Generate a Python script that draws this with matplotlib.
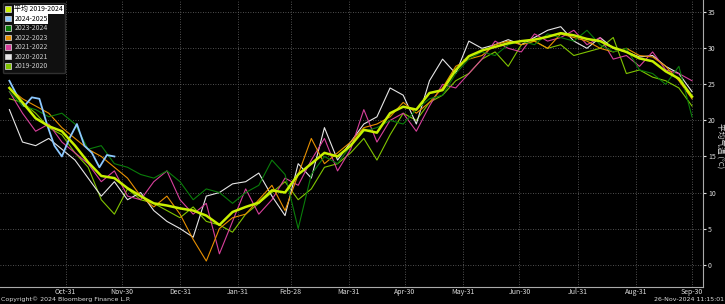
import numpy as np
import matplotlib
matplotlib.use("Agg")
import matplotlib.pyplot as plt
import matplotlib.dates as mdates
from matplotlib.patches import Patch

plt.rcParams['font.family'] = ['Noto Sans CJK SC', 'DejaVu Sans']

# weekly readings, starting 1 Oct
start = np.datetime64('2022-10-01')
week_dates = start + np.arange(0, 365, 7).astype('timedelta64[D]')

avg_2019_2024 = [24.5, 22.5, 20.3, 19.2, 18.5, 16.5, 14.2, 12.3, 12.0, 10.6, 9.5, 8.5, 8.2, 7.8, 7.5, 6.8,
                 5.5, 7.3, 8.0, 8.6, 10.3, 10.0, 12.5, 14.0, 15.5, 15.0, 16.5, 18.7, 18.3, 21.0, 21.9, 21.5,
                 23.8, 24.2, 27.0, 28.9, 29.7, 30.2, 30.7, 31.0, 31.2, 31.6, 32.1, 31.8, 31.3, 31.0, 30.1,
                 29.5, 28.6, 28.2, 26.8, 25.8, 23.3]
y2023_2024 = [24.0, 22.0, 21.5, 20.5, 21.0, 19.5, 16.0, 16.5, 14.0, 13.5, 12.5, 12.0, 13.0, 11.5, 9.0, 10.5,
              10.0, 8.5, 10.0, 11.0, 14.5, 12.5, 5.0, 12.5, 15.0, 14.0, 16.5, 18.5, 19.0, 20.0, 19.5, 21.5,
              23.0, 23.5, 26.5, 28.5, 29.5, 29.0, 30.5, 31.0, 30.5, 32.0, 31.5, 31.0, 32.5, 30.5, 29.5,
              30.0, 27.0, 26.5, 25.0, 27.5, 20.5]
y2022_2023 = [24.5, 23.0, 22.0, 21.0, 19.0, 17.5, 16.0, 15.0, 13.5, 12.0, 9.5, 8.0, 9.5, 7.0, 3.5, 0.5,
              5.0, 6.5, 7.0, 9.0, 11.0, 7.5, 12.5, 17.5, 14.0, 15.5, 17.0, 19.0, 19.5, 20.5, 22.5, 21.0,
              22.5, 24.5, 27.5, 28.5, 29.0, 30.5, 31.0, 30.5, 31.0, 30.0, 32.0, 31.5, 31.0, 30.0, 29.5,
              30.0, 29.0, 28.8, 27.5, 25.5, 23.0]
y2021_2022 = [24.0, 21.0, 18.5, 19.5, 17.0, 15.5, 14.0, 11.5, 13.0, 9.5, 9.0, 11.5, 13.0, 9.0, 7.0, 8.5,
              1.5, 6.0, 10.5, 7.0, 9.0, 12.0, 11.0, 14.5, 17.5, 13.0, 16.0, 21.5, 17.0, 20.0, 21.0, 18.5,
              22.0, 25.0, 24.5, 26.5, 28.5, 31.0, 30.0, 29.5, 32.0, 31.0, 31.5, 32.5, 30.5, 31.5, 28.5,
              29.0, 27.5, 29.5, 27.0, 26.5, 25.5]
y2020_2021 = [21.5, 17.0, 16.5, 17.5, 16.0, 14.5, 12.0, 9.5, 11.5, 9.0, 10.0, 7.5, 6.0, 5.0, 3.8, 9.5,
              10.0, 11.2, 11.5, 12.7, 9.5, 6.8, 14.0, 12.0, 19.0, 14.5, 17.0, 19.5, 20.5, 24.5, 23.5, 19.5,
              25.5, 28.5, 26.5, 31.0, 30.0, 30.5, 31.2, 30.5, 31.5, 32.5, 33.0, 31.0, 30.0, 31.5, 30.0,
              29.5, 28.8, 29.0, 27.5, 26.5, 24.0]
y2019_2020 = [23.0, 22.5, 21.0, 19.0, 18.0, 15.5, 13.5, 9.0, 7.0, 10.5, 9.0, 8.5, 7.5, 6.5, 8.0, 6.0,
              5.5, 4.5, 7.0, 8.5, 10.0, 11.5, 9.0, 10.5, 13.5, 14.0, 15.5, 17.5, 14.5, 18.0, 21.0, 20.0,
              22.5, 23.5, 25.5, 26.5, 28.5, 29.5, 27.5, 30.5, 31.0, 30.0, 30.5, 29.0, 29.5, 30.0, 31.5,
              26.5, 27.0, 26.0, 25.5, 24.5, 22.0]

# current season, every 4 days up to late Nov
cur_dates = start + np.arange(0, 57, 4).astype('timedelta64[D]')
y2024_2025 = [25.5, 23.5, 22.0, 23.2, 23.0, 19.5, 16.5, 15.0, 17.5, 19.5, 16.5, 15.5, 13.5, 15.2, 15.0]

labels = ['平均 2019-2024', '2024-2025', '2023-2024', '2022-2023', '2021-2022', '2020-2021', '2019-2020']
colors = ['#c8f000', '#8cc8ff', '#0a7d0a', '#e89000', '#d8409c', '#e6e6e6', '#80c400']

month_ends = ['2022-10-31', '2022-11-30', '2022-12-31', '2023-01-31', '2023-02-28', '2023-03-31',
              '2023-04-30', '2023-05-31', '2023-06-30', '2023-07-31', '2023-08-31', '2023-09-30']

fig = plt.figure(figsize=(7.25, 3.04), dpi=100, facecolor='black')
ax = fig.add_axes([0.0, 0.056, 0.970, 0.944], facecolor='black')

# years first, average on top
series = [y2019_2020, y2020_2021, y2021_2022, y2022_2023, y2023_2024]
series_colors = [colors[6], colors[5], colors[4], colors[3], colors[2]]
for vals, c in zip(series, series_colors):
    ax.plot(week_dates, vals, color=c, lw=0.8)
ax.plot(cur_dates, y2024_2025, color=colors[1], lw=1.3)
ax.plot(week_dates, avg_2019_2024, color=colors[0], lw=1.8)

ax.set_xlim(start - np.timedelta64(5, 'D'), start + np.timedelta64(370, 'D'))
ax.set_ylim(-3.1, 36.7)

ax.yaxis.tick_right()
ax.set_yticks(np.arange(0, 36, 5))
ax.set_xticks([np.datetime64(d) for d in month_ends])
ax.xaxis.set_major_formatter(mdates.DateFormatter('%b-%d'))
ax.tick_params(axis='y', colors='#dddddd', labelsize=5, length=2, pad=1.5)
ax.tick_params(axis='x', colors='#dddddd', labelsize=5, length=0, pad=0.5)
fig.text(0.992, 0.52, '平均气温 (°C)', color='#dddddd', fontsize=5.5, rotation=270,
         ha='center', va='center')

ax.grid(True, color='#6a6a6a', ls=(0, (1, 2)), lw=0.6)
for side in ['top', 'left']:
    ax.spines[side].set_visible(False)
for side in ['bottom', 'right']:
    ax.spines[side].set_color('#aaaaaa')
    ax.spines[side].set_linewidth(0.8)

handles = [Patch(facecolor=c, edgecolor='#cccccc', lw=0.6) for c in colors]
leg = ax.legend(handles, labels, loc='upper left', bbox_to_anchor=(0.004, 0.99), fontsize=5,
                frameon=True, facecolor='#101010', edgecolor='#303030', framealpha=1,
                handlelength=0.9, handleheight=0.9, handletextpad=0.4, labelspacing=0.22,
                borderpad=0.35, borderaxespad=0.0)
for i, t in enumerate(leg.get_texts()):
    if i < 2:
        t.set_color('black')
        t.set_bbox(dict(facecolor='white', edgecolor='none', pad=0.5))
    else:
        t.set_color('#cccccc')

fig.text(0.002, 0.006, 'Copyright© 2024 Bloomberg Finance L.P.', color='#dddddd', fontsize=4.5,
         family='DejaVu Sans', va='bottom')
fig.text(0.998, 0.006, '26-Nov-2024 11:15:01', color='#dddddd', fontsize=4.5,
         family='DejaVu Sans', ha='right', va='bottom')

fig.savefig('out.png', dpi=100, facecolor='black')
